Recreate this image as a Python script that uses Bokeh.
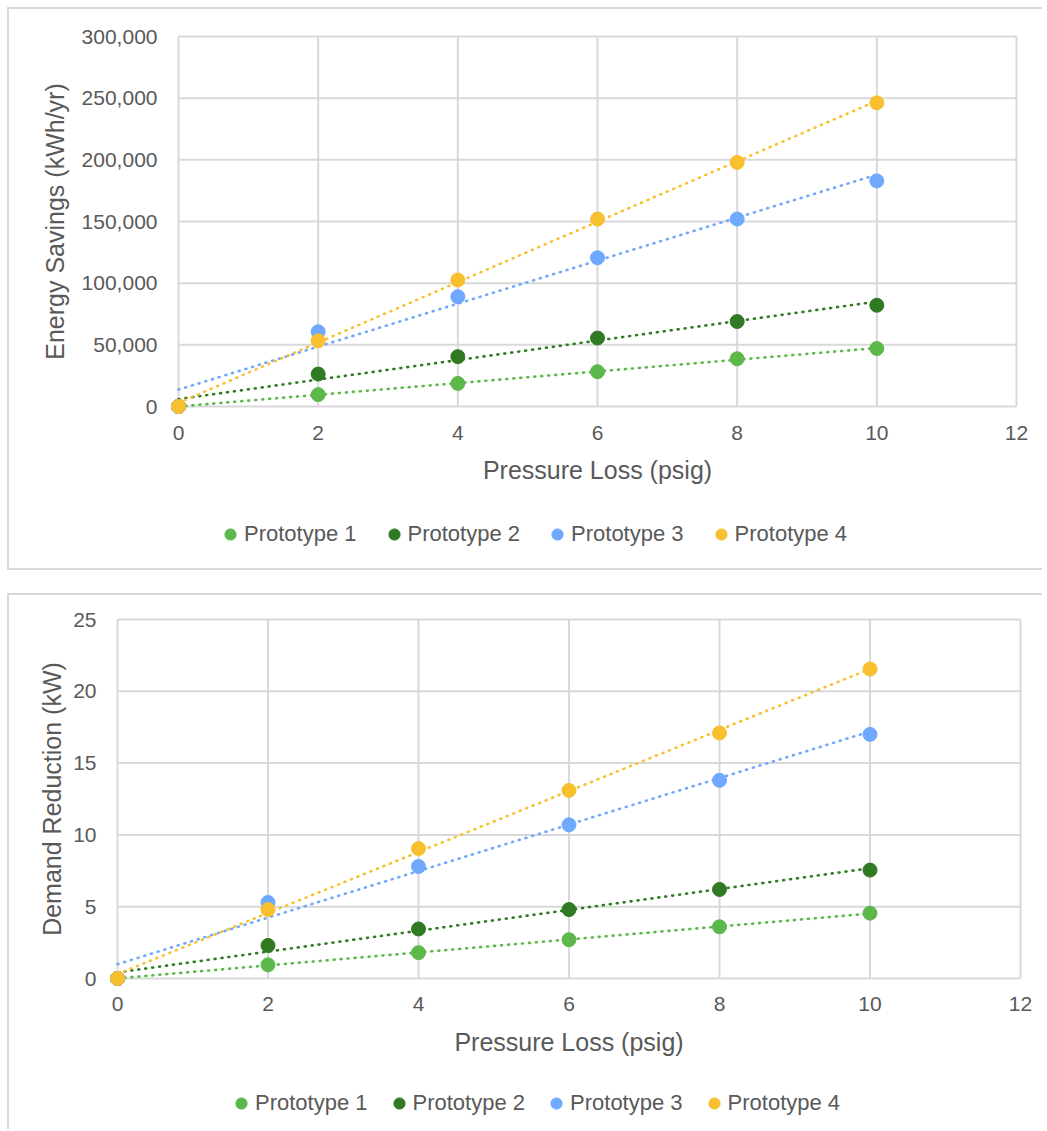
import numpy as np
from bokeh.plotting import figure
from bokeh.models import Range1d, FixedTicker, NumeralTickFormatter, Legend, LegendItem
from bokeh.embed import file_html
from bokeh.resources import INLINE

# ---------------- data ----------------
pressure_loss = [0, 2, 4, 6, 8, 10]
series_names = ["Prototype 1", "Prototype 2", "Prototype 3", "Prototype 4"]

energy_p1 = [0, 9600, 18700, 28200, 38700, 47000]
energy_p2 = [0, 26300, 40400, 55500, 68900, 82100]
energy_p3 = [0, 60600, 89000, 120600, 152000, 182900]
energy_p4 = [0, 53300, 102600, 152000, 197900, 246200]

demand_p1 = [0, 0.95, 1.8, 2.7, 3.6, 4.55]
demand_p2 = [0, 2.3, 3.45, 4.8, 6.2, 7.55]
demand_p3 = [0, 5.3, 7.8, 10.7, 13.8, 17.0]
demand_p4 = [0, 4.8, 9.05, 13.1, 17.1, 21.55]

x_ticks = [0, 2, 4, 6, 8, 10, 12]
energy_ticks = [0, 50000, 100000, 150000, 200000, 250000, 300000]
demand_ticks = [0, 5, 10, 15, 20, 25]

x_title = "Pressure Loss (psig)"
energy_title = "Energy Savings (kWh/yr)"
demand_title = "Demand Reduction (kW)"

# ---------------- style ----------------
colors = ["#5CB84A", "#2F7A22", "#6FA8FF", "#F8C02E"]
FONT = "Liberation Sans"
TEXT = "#595959"
GRID = "#d9d9d9"
PAD = 10  # px of breathing room so markers at the origin are not clipped
WIDTH = 1035


def make_chart(series, y_ticks, y_title, y_format, height, area,
               x_standoffs, y_title_standoff, shadow, margin):
    # area = (left, right, top, bottom) of the 0..max plot area, in figure px
    left, right, top, bottom = area
    x0, x1 = x_ticks[0], x_ticks[-1]
    y0, y1 = y_ticks[0], y_ticks[-1]
    xpad = PAD * (x1 - x0) / (right - left)
    ypad = PAD * (y1 - y0) / (bottom - top)

    p = figure(width=WIDTH, height=height, output_backend="svg",
               toolbar_location=None, tools="",
               x_range=Range1d(x0 - xpad, x1 + xpad),
               y_range=Range1d(y0 - ypad, y1 + ypad),
               min_border_left=left - PAD, min_border_right=WIDTH - right - PAD,
               min_border_top=top - PAD, min_border_bottom=height - bottom - PAD)
    p.margin = margin
    p.border_fill_color = None
    p.background_fill_color = "white"
    p.outline_line_color = None
    p.grid.grid_line_color = None
    p.styles = {"box-shadow": shadow}

    # grid lines, drawn only across the plot area
    p.segment(x0=x_ticks, x1=x_ticks, y0=[y0] * len(x_ticks), y1=[y1] * len(x_ticks),
              line_color=GRID, line_width=2)
    p.segment(x0=[x0] * len(y_ticks), x1=[x1] * len(y_ticks), y0=y_ticks, y1=y_ticks,
              line_color=GRID, line_width=2)

    # linear trendlines over the data range
    for vals, c in zip(series, colors):
        k, b = np.polyfit(pressure_loss, vals, 1)
        xs = [min(pressure_loss), max(pressure_loss)]
        p.line(xs, [k * v + b for v in xs], line_color=c, line_width=2.6,
               line_dash="1 6", line_cap="round")

    for vals, c in zip(series, colors):
        p.scatter(pressure_loss, vals, size=14, fill_color=c, line_color=c)

    for ax in (p.xaxis[0], p.yaxis[0]):
        ax.axis_line_color = None
        ax.major_tick_line_color = None
        ax.minor_tick_line_color = None
        ax.major_tick_in = 0
        ax.major_tick_out = 0
        ax.major_label_text_font = FONT
        ax.major_label_text_font_size = "21px"
        ax.major_label_text_color = TEXT
        ax.axis_label_text_font = FONT
        ax.axis_label_text_font_style = "normal"
        ax.axis_label_text_color = TEXT

    p.xaxis.ticker = FixedTicker(ticks=x_ticks)
    p.xaxis.axis_label = x_title
    p.xaxis.axis_label_text_font_size = "25px"
    p.xaxis.major_label_standoff = x_standoffs[0]
    p.xaxis.axis_label_standoff = x_standoffs[1]

    p.yaxis.ticker = FixedTicker(ticks=y_ticks)
    p.yaxis.formatter = NumeralTickFormatter(format=y_format)
    p.yaxis.axis_label = y_title
    p.yaxis.axis_label_text_font_size = "25px"
    p.yaxis.major_label_standoff = 11
    p.yaxis.axis_label_standoff = y_title_standoff
    return p


def make_legend(series, height, loc, spacing, shadow, margin):
    # a strip holding only the legend; its ranges keep the series' points out of view
    lg = figure(width=WIDTH, height=height, output_backend="svg",
                toolbar_location=None, tools="", x_axis_type=None, y_axis_type=None,
                x_range=Range1d(-3, -2), y_range=Range1d(-3, -2), min_border=0)
    lg.margin = margin
    lg.border_fill_color = None
    lg.background_fill_color = None
    lg.outline_line_color = None
    lg.styles = {"box-shadow": shadow}
    items = []
    for vals, c, name in zip(series, colors, series_names):
        r = lg.scatter(pressure_loss, vals, size=14, fill_color=c, line_color=c)
        items.append(LegendItem(label=name, renderers=[r]))
    legend = Legend(items=items, orientation="horizontal", location=loc,
                    padding=0, spacing=spacing, label_standoff=0, margin=0,
                    glyph_width=28, glyph_height=28,
                    border_line_color=None, background_fill_alpha=0,
                    label_text_font=FONT, label_text_font_size="22px",
                    label_text_color=TEXT)
    lg.add_layout(legend, "center")
    return lg


energy = [energy_p1, energy_p2, energy_p3, energy_p4]
demand = [demand_p1, demand_p2, demand_p3, demand_p4]

top = make_chart(energy, energy_ticks, energy_title, "0,0", 490,
                 (171, 1009, 29, 399), (9, 13), 10,
                 "inset 2px 2px 0 0 #d9d9d9", (7, 0, 0, 7))
top_legend = make_legend(energy, 73, (209, 22), 23,
                         "inset 2px 0 0 0 #d9d9d9, inset 0 -2px 0 0 #d9d9d9",
                         (0, 0, 0, 7))
bottom = make_chart(demand, demand_ticks, demand_title, "0", 475,
                    (110, 1013, 26, 385), (8, 14), 4,
                    "inset 2px 2px 0 0 #d9d9d9", (23, 0, 0, 7))
bottom_legend = make_legend(demand, 61, (220, 12), 17, "inset 2px 0 0 0 #d9d9d9",
                            (0, 0, 0, 7))

open("out.html", "w").write(file_html([top, top_legend, bottom, bottom_legend], INLINE))
